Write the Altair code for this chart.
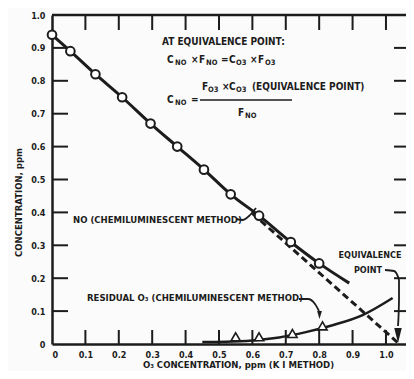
import altair as alt
import pandas as pd

# ---------------- data ----------------
no_x = [0.0, 0.055, 0.13, 0.21, 0.295, 0.375, 0.455, 0.535, 0.62, 0.715, 0.80]
no_y = [0.94, 0.89, 0.82, 0.75, 0.67, 0.60, 0.53, 0.455, 0.39, 0.31, 0.245]
no_line_end_x = [0.89]
no_line_end_y = [0.185]
ext_x = [0.60, 1.04]
ext_y = [0.397, 0.0]
o3_x = [0.55, 0.62, 0.72, 0.81]
o3_y = [0.022, 0.022, 0.032, 0.055]
o3_curve_x = [0.45, 0.52, 0.60, 0.68, 0.76, 0.84, 0.93, 1.02]
o3_curve_y = [0.006, 0.007, 0.011, 0.02, 0.036, 0.057, 0.088, 0.14]
x_tick_values = [0.1, 0.2, 0.3, 0.4, 0.5, 0.6, 0.7, 0.8, 0.9, 1.0]
y_tick_values = [0.1, 0.2, 0.3, 0.4, 0.5, 0.6, 0.7, 0.8, 0.9]
x_label_values = [0.0] + x_tick_values
y_label_values = [0.0] + y_tick_values + [1.0]

W, H = 354, 329
XMAX = 1.06
FONT = "Liberation Sans Narrow, DejaVu Sans Condensed, sans-serif"
INK = "#1c1c1c"


def fx(px):
    return (px - 52) / W * XMAX


def fy(py):
    return (344 - py) / H


xs = alt.Scale(domain=[0, XMAX], nice=False, zero=False)
ys = alt.Scale(domain=[0, 1.0], nice=False)

label_expr = "datum.value == 0 ? '0' : format(datum.value, '.1f')"
x_axis = alt.Axis(
    values=x_label_values, labelExpr=label_expr, ticks=False, grid=False,
    domain=True, domainWidth=2.5, domainColor=INK,
    labelFont=FONT, labelFontSize=9, labelFontWeight="bold", labelColor=INK, labelPadding=6,
    title="O₃ CONCENTRATION, ppm (K I METHOD)", titleFont=FONT, titleFontSize=9.5,
    titleFontWeight="bold", titleColor=INK, titleX=186, titleY=20, titleBaseline="middle",
    titleAnchor="start", titleAlign="center")
y_axis = alt.Axis(
    values=y_label_values, labelExpr=label_expr, ticks=False, grid=False,
    domain=True, domainWidth=2.5, domainColor=INK,
    labelFont=FONT, labelFontSize=9, labelFontWeight="bold", labelColor=INK, labelPadding=7,
    title="CONCENTRATION, ppm", titleFont=FONT, titleFontSize=9.5, titleFontWeight="bold",
    titleColor=INK, titleX=-34, titleY=187, titleAngle=270, titleBaseline="middle",
    titleAlign="center", titleAnchor="start")


def X(f="x"):
    return alt.X(f + ":Q", scale=xs, axis=x_axis)


def Y(f="y"):
    return alt.Y(f + ":Q", scale=ys, axis=y_axis)


no_df = pd.DataFrame({"x": no_x, "y": no_y})
no_line_df = pd.DataFrame({"x": no_x + no_line_end_x, "y": no_y + no_line_end_y})
ext_df = pd.DataFrame({"x": ext_x, "y": ext_y})
o3_df = pd.DataFrame({"x": o3_x, "y": o3_y})
o3_line_df = pd.DataFrame({"x": o3_curve_x, "y": o3_curve_y})

no_line = alt.Chart(no_line_df).mark_line(color=INK, strokeWidth=3, interpolate="monotone").encode(
    x=X(), y=Y())
ext_line = alt.Chart(ext_df).mark_line(color=INK, strokeWidth=3, strokeDash=[7, 4]).encode(
    x=X(), y=Y())
no_pts = alt.Chart(no_df).mark_point(shape="circle", size=75, filled=True, fill="white",
                                     stroke=INK, strokeWidth=2, opacity=1).encode(x=X(), y=Y())
o3_line = alt.Chart(o3_line_df).mark_line(color=INK, strokeWidth=2.5, interpolate="monotone").encode(
    x=X(), y=Y())
o3_pts = alt.Chart(o3_df).mark_point(shape="triangle-up", size=85, filled=True, fill="white",
                                     stroke=INK, strokeWidth=1.6, opacity=1).encode(x=X(), y=Y())

# frame top line
top_line = alt.Chart(pd.DataFrame({"y": [1.0]})).mark_rule(color=INK, strokeWidth=2.5).encode(y=Y())

# inward ticks
xt = pd.DataFrame({"x": x_tick_values})
yt = pd.DataFrame({"y": y_tick_values})
bottom_ticks = alt.Chart(xt).mark_rule(color=INK, strokeWidth=2).encode(
    x=X(), y=alt.value(H), y2=alt.value(H - 14))
top_ticks = alt.Chart(xt).mark_rule(color=INK, strokeWidth=2).encode(
    x=X(), y=alt.value(0), y2=alt.value(15))
left_ticks = alt.Chart(yt).mark_rule(color=INK, strokeWidth=2).encode(
    y=Y(), x=alt.value(0), x2=alt.value(16))
right_ticks = alt.Chart(yt).mark_rule(color=INK, strokeWidth=2).encode(
    y=Y(), x=alt.value(W - 12), x2=alt.value(W))

# ---------------- annotations ----------------
eq_txt = [
    ("AT EQUIVALENCE POINT:", 162, 42),
    ("C", 167, 60), ("×", 191, 60), ("F", 199, 60), ("=", 221, 60),
    ("C", 229, 60), ("×", 250, 60), ("F", 258, 60),
    ("C", 167, 100), ("=", 191, 100),
    ("F", 202, 87), ("×", 222, 87), ("C", 229, 87), ("(EQUIVALENCE POINT)", 252, 87),
    ("F", 238, 113),
]
label_txt = [
    ("NO (CHEMILUMINESCENT METHOD)", 73, 220),
    ("RESIDUAL O₃ (CHEMILUMINESCENT METHOD)", 87, 298),
]
sub_txt = [
    ("NO", 175, 63), ("NO", 206, 63), ("O3", 236, 63), ("O3", 265, 63),
    ("NO", 175, 103), ("O3", 208, 90), ("O3", 236, 90), ("NO", 245, 116),
]
center_txt = [("EQUIVALENCE", 370, 255), ("POINT", 368, 270)]


def tdf(items):
    return pd.DataFrame({"t": [a for a, _, _ in items],
                         "x": [fx(b) for _, b, _ in items],
                         "y": [fy(c) for _, _, c in items]})


eq_layer = alt.Chart(tdf(eq_txt)).mark_text(
    align="left", baseline="middle", font=FONT, fontSize=10, fontWeight="bold", color=INK).encode(
    x=X(), y=Y(), text="t:N")
label_layer = alt.Chart(tdf(label_txt)).mark_text(
    align="left", baseline="middle", font=FONT, fontSize=9.5, fontWeight="bold", color=INK).encode(
    x=X(), y=Y(), text="t:N")
sub_layer = alt.Chart(tdf(sub_txt)).mark_text(
    align="left", baseline="middle", font=FONT, fontSize=7.5, fontWeight="bold", color=INK).encode(
    x=X(), y=Y(), text="t:N")
center_layer = alt.Chart(tdf(center_txt)).mark_text(
    align="center", baseline="middle", font=FONT, fontSize=9, fontWeight="bold", color=INK).encode(
    x=X(), y=Y(), text="t:N")

frac_df = pd.DataFrame({"x": [fx(200)], "x2": [fx(292)], "y": [fy(100)]})
frac = alt.Chart(frac_df).mark_rule(color=INK, strokeWidth=1.3).encode(
    x=X(), x2="x2:Q", y=Y())

arrow_paths = {
    "no": [(236, 219), (243, 220), (249, 216), (256, 208)],
    "res": [(299, 299), (308, 299), (315, 304), (319, 311)],
    "eq": [(385, 270), (394, 271), (399, 280), (399, 300), (398, 326)],
}
rows = []
for g, pts in arrow_paths.items():
    for i, (px, py) in enumerate(pts):
        rows.append({"g": g, "i": i, "x": fx(px), "y": fy(py)})
arrows = alt.Chart(pd.DataFrame(rows)).mark_line(color=INK, strokeWidth=1.8, interpolate="monotone").encode(
    x=X(), y=Y(), detail="g:N", order="i:Q")

heads_small = alt.Chart(pd.DataFrame({"x": [fx(319.5)], "y": [fy(315)]})).mark_point(
    shape="M-0.6,-1L0.6,-1L0,1Z", size=64, filled=True, color=INK, opacity=1).encode(x=X(), y=Y())
heads_big = alt.Chart(pd.DataFrame({"x": [fx(398)], "y": [fy(335.5)]})).mark_point(
    shape="M-0.5,-1L0.5,-1L0,1Z", size=225, filled=True, color=INK, opacity=1).encode(x=X(), y=Y())

chart = alt.layer(
    no_line, top_line, bottom_ticks, top_ticks, left_ticks, right_ticks,
    ext_line, o3_line, no_pts, o3_pts, frac, eq_layer, label_layer, sub_layer, center_layer,
    arrows, heads_small, heads_big,
).properties(
    width=W, height=H,
    autosize=alt.AutoSizeParams(type="none"),
    padding={"left": 44, "top": 7, "right": 0, "bottom": 27},
    background="#fbfbfb",
).configure_view(stroke=None)

chart.save("out.html", embed_options={"renderer": "svg", "actions": False})
